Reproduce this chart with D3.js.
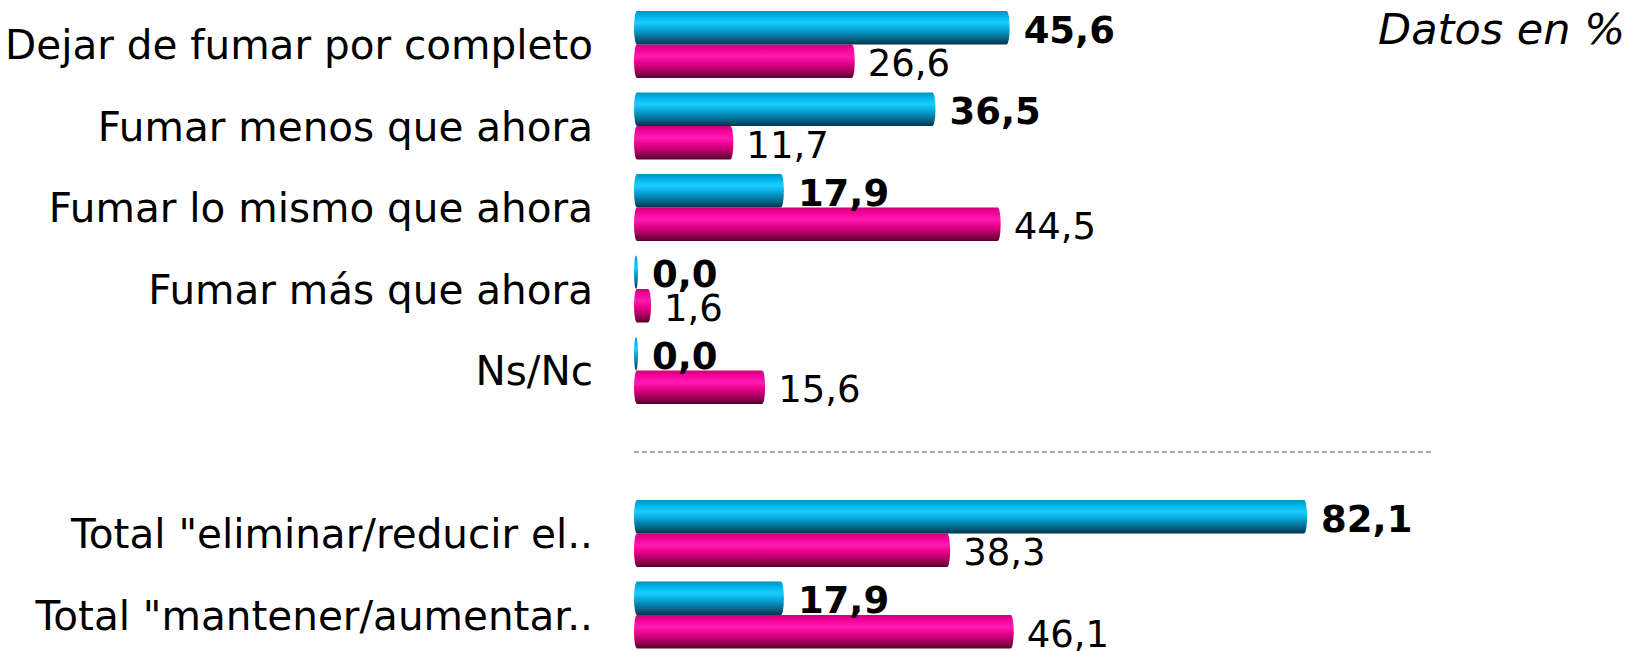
<!DOCTYPE html>
<html>
<head>
<meta charset="utf-8">
<script src="https://cdn.jsdelivr.net/npm/d3@7"></script>
<style>
  body { margin: 0; background: #fff; }
  svg { display: block; font-family: "DejaVu Sans", Verdana, sans-serif; }
</style>
</head>
<body>
<svg></svg>
<script>
/* globals d3 */

const width = 1631;
const height = 651;

// categories, top to bottom (a dashed separator sits between the 5th and 6th)
const categories = [
  "Dejar de fumar por completo",
  "Fumar menos que ahora",
  "Fumar lo mismo que ahora",
  "Fumar más que ahora",
  "Ns/Nc",
  "Total \"eliminar/reducir el..",
  "Total \"mantener/aumentar.."
];
const blueValues = [45.6, 36.5, 17.9, 0.0, 0.0, 82.1, 17.9];
const pinkValues = [26.6, 11.7, 44.5, 1.6, 15.6, 38.3, 46.1];
const separatorAfter = 4;
const unitNote = "Datos en %";

const marginLeft = 634;

const slots = [...categories.slice(0, separatorAfter + 1), "__sep", ...categories.slice(separatorAfter + 1)];

const y = d3.scaleBand(slots, [11, 648.5]).paddingInner(0.178).paddingOuter(0);
const sub = d3.scaleBand(["blue", "pink"], [0, y.bandwidth()]);
const x = d3.scaleLinear([0, 100], [marginLeft, marginLeft + 815]);

const fmt = v => d3.format(".1f")(v).replace(".", ",");

const svg = d3.select("svg")
    .attr("width", width)
    .attr("height", height)
    .attr("viewBox", [0, 0, width, height]);

// cylinder-like gradients
const defs = svg.append("defs");
function gradient(id, stops) {
  const g = defs.append("linearGradient")
      .attr("id", id)
      .attr("x1", 0).attr("y1", 0).attr("x2", 0).attr("y2", 1);
  stops.forEach(([o, c]) => g.append("stop").attr("offset", o).attr("stop-color", c));
}
gradient("gBlue", [[0, "#0092c4"], [0.15, "#00b2e6"], [0.35, "#1ccdff"], [0.55, "#08a6d8"], [0.8, "#046a8e"], [1, "#00354c"]]);
gradient("gPink", [[0, "#cc0078"], [0.15, "#f2009a"], [0.35, "#ff1cb0"], [0.55, "#e8008e"], [0.8, "#a00058"], [1, "#58002e"]]);

const rows = categories.map((c, i) => ({cat: c, blue: blueValues[i], pink: pinkValues[i]}));

// category labels
svg.append("g")
    .attr("font-size", 40.5)
    .attr("text-anchor", "end")
    .attr("fill", "#000")
  .selectAll("text")
  .data(rows)
  .join("text")
    .attr("x", 593)
    .attr("y", d => y(d.cat) + y.bandwidth() / 2)
    .attr("dy", "0.36em")
    .text(d => d.cat);

// separator
svg.append("line")
    .attr("x1", x(0))
    .attr("x2", 1433)
    .attr("y1", y("__sep") + y.bandwidth() / 2)
    .attr("y2", y("__sep") + y.bandwidth() / 2)
    .attr("stroke", "#8f8f8f")
    .attr("stroke-width", 1.5)
    .attr("stroke-dasharray", "5,3");

const series = [
  {key: "pink", fill: "url(#gPink)", weight: "normal", gap: 13},
  {key: "blue", fill: "url(#gBlue)", weight: "bold", gap: 14}
];

series.forEach(s => {
  const g = svg.append("g");
  g.selectAll("rect")
    .data(rows)
    .join("rect")
      .attr("x", x(0))
      .attr("y", d => y(d.cat) + sub(s.key))
      .attr("width", d => x(d[s.key]) - x(0) + 4)
      .attr("height", sub.bandwidth())
      .attr("rx", 3)
      .attr("ry", sub.bandwidth() / 2)
      .attr("fill", s.fill);
});

series.forEach(s => {
  svg.append("g")
      .attr("font-size", 37)
      .attr("font-weight", s.weight)
      .attr("fill", "#000")
    .selectAll("text")
    .data(rows)
    .join("text")
      .attr("x", d => x(d[s.key]) + 4 + s.gap)
      .attr("y", d => y(d.cat) + sub(s.key) + sub.bandwidth() / 2)
      .attr("dy", "0.4em")
      .text(d => fmt(d[s.key]));
});

svg.append("text")
    .attr("x", 1625)
    .attr("y", 44)
    .attr("text-anchor", "end")
    .attr("font-size", 43)
    .attr("font-style", "italic")
    .text(unitNote);
</script>
</body>
</html>
